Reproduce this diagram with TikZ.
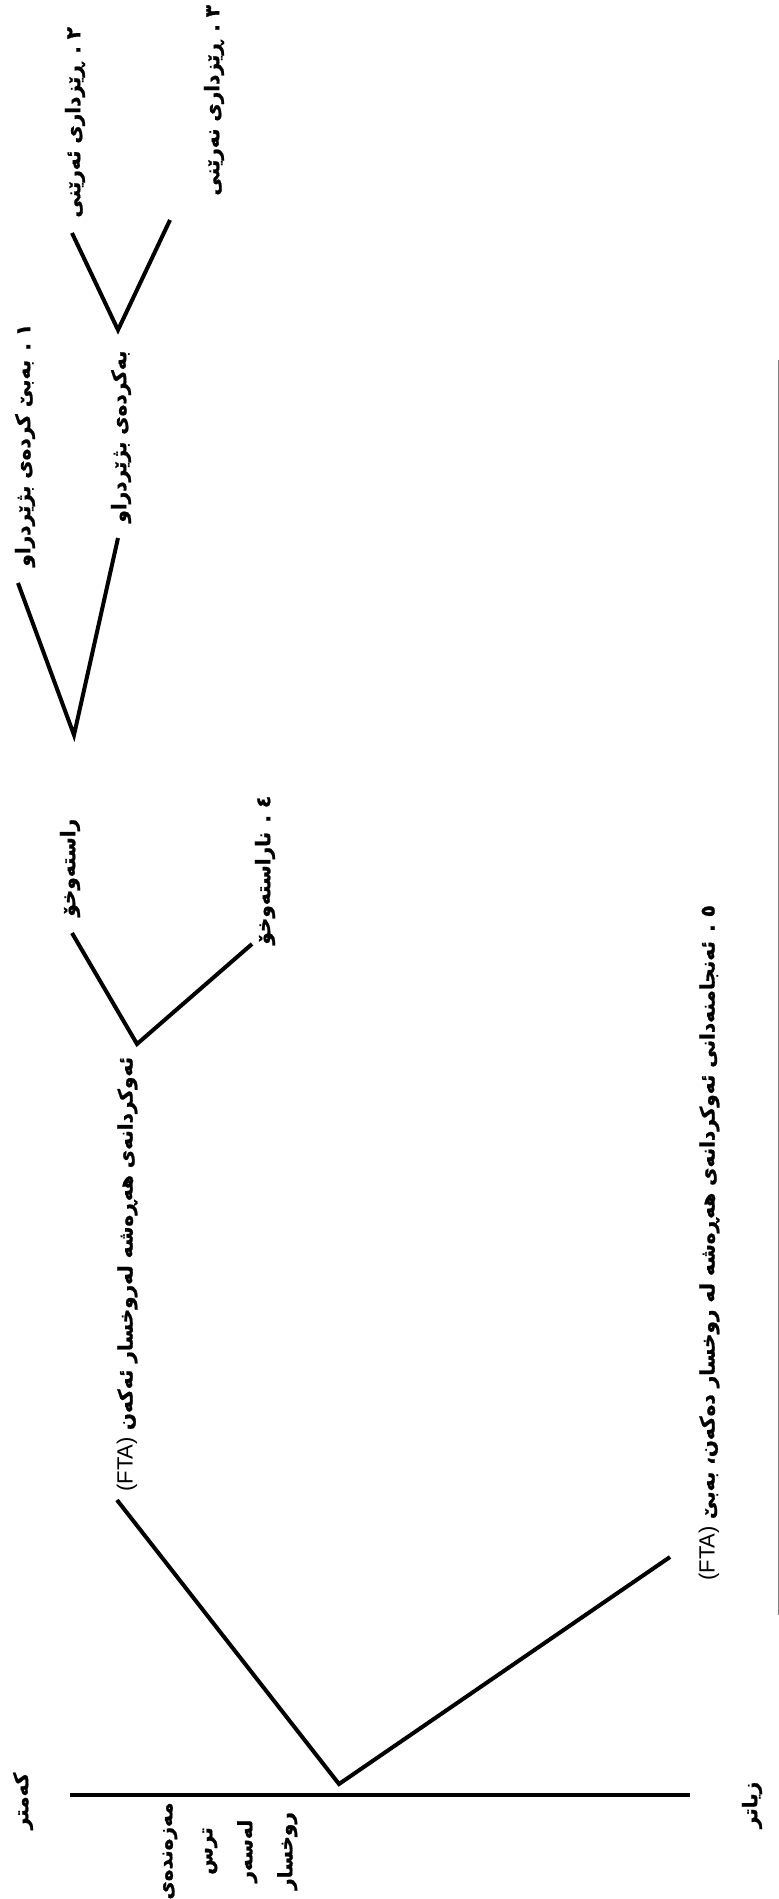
\documentclass[tikz,border=0pt]{standalone}
\usepackage{fontspec}
\usepackage{tikz}
\TeXXeTstate=1
\newfontfamily\kurdfont[Script=Arabic,BoldFeatures={FakeBold=1.2}]{DejaVu Sans}
\newfontfamily\latinfont{Liberation Sans}
\newcommand{\fta}{\beginL{\latinfont\mdseries\fontsize{11}{13}\selectfont(FTA)}\endL}

\begin{document}
\begin{tikzpicture}[x=0.5pt,y=-0.5pt,
    branch/.style={line width=2pt},
    axis/.style={line width=2pt},
    kurd/.style={rotate=90,inner sep=0pt,font=\kurdfont\bfseries\fontsize{10}{12}\selectfont}]
    \useasboundingbox (0,0) rectangle (779,1899);
    % Page edge
    \draw[gray,line width=0.5pt] (778,360) -- (778,1615);
    % Axis
    \coordinate (lo) at (70,1795);
    \coordinate (hi) at (690,1795);
    \draw[axis] (lo) -- (hi);
    \node[kurd] (lesser) at (23,1801) {کەمتر};
    \node[kurd] (greater) at (752,1805) {زیاتر};
    \node[kurd,align=center] (risk) at (230,1851)
        {مەزەندەی\\[8pt] ترس\\[8pt] لەسەر\\[8pt] روخسار};
    % Do / don't do the FTA
    \coordinate (root) at (339,1784);
    \coordinate (do) at (117,1500);
    \coordinate (dont) at (670,1557);
    \draw[branch] (do) -- (root) -- (dont);
    \node[kurd,anchor=west] (doFTA) at (127,1492)
        {\beginR ئەوکردانەی هەڕەشە لەروخسار ئەکەن \fta\endR};
    \node[kurd,anchor=west] (dontFTA) at (709,1581)
        {\beginR ٥ . ئەنجامنەدانی ئەوکردانەی هەڕەشە لە روخسار دەکەن، بەبێ \fta\endR};
    % On / off record
    \coordinate (do1) at (137,1044);
    \coordinate (on) at (72,933);
    \coordinate (off) at (252,944);
    \draw[branch] (on) -- (do1) -- (off);
    \node[kurd,anchor=west] (onrec) at (70,917) {راستەوخۆ};
    \node[kurd,anchor=west] (offrec) at (265,945) {\beginR ٤ . ناراستەوخۆ\endR};
    % Redressive action
    \coordinate (on1) at (74,735);
    \coordinate (bald) at (18,583);
    \coordinate (redress) at (118,538);
    \draw[branch] (bald) -- (on1) -- (redress);
    \node[kurd,anchor=west] (baldon) at (25,567) {\beginR ١ . بەبێ کردەی بژێردراو\endR};
    \node[kurd,anchor=west] (withred) at (121,523) {\beginR بەکردەی بژێردراو\endR};
    % Positive / negative
    \coordinate (red1) at (118,330);
    \coordinate (pos) at (72,233);
    \coordinate (neg) at (170,220);
    \draw[branch] (pos) -- (red1) -- (neg);
    \node[kurd,anchor=west] (posp) at (75,218) {\beginR ٢ . ڕێزداری ئەرێنی\endR};
    \node[kurd,anchor=west] (negp) at (214,196) {\beginR ٣ . ڕێزداری نەرێنی\endR};
\end{tikzpicture}
\end{document}
